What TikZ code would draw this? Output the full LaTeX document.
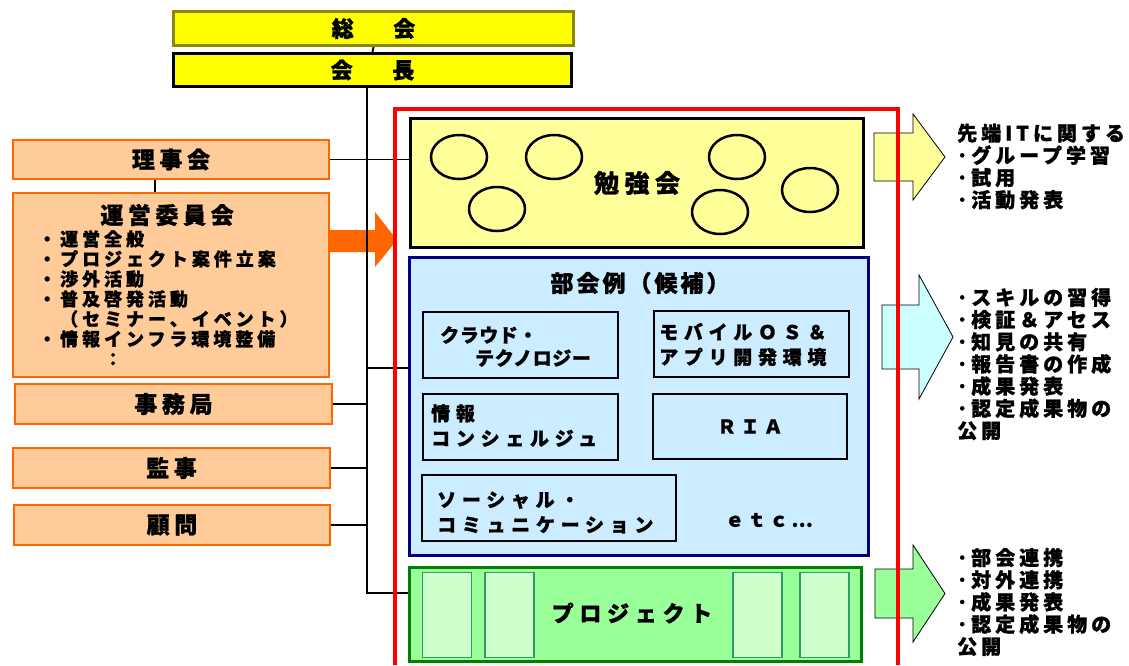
\documentclass[tikz,border=0pt]{standalone}
\usepackage{fontspec}
\setmainfont{Noto Sans CJK JP}[BoldFeatures={FakeBold=1.2}]
\usetikzlibrary{shapes.geometric}
\definecolor{cyel}{HTML}{FFFF00}
\definecolor{colive}{HTML}{8A8A00}
\definecolor{cltyel}{HTML}{FFFF99}
\definecolor{corange}{HTML}{FF6600}
\definecolor{cltorange}{HTML}{FFCC99}
\definecolor{cltblue}{HTML}{CCECFF}
\definecolor{cnavy}{HTML}{000080}
\definecolor{cgreen}{HTML}{99FF99}
\definecolor{cdkgreen}{HTML}{008000}
\definecolor{cpalegreen}{HTML}{CCFFCC}
\definecolor{cteal}{HTML}{339966}
\definecolor{ccyan}{HTML}{CCFFFF}
\newcommand\myfs[2]{\fontsize{#1}{#2}\selectfont}
\newcommand\myls[1]{\addfontfeature{LetterSpace=#1}}
\begin{document}
\begin{tikzpicture}[x=1pt,y=-1pt,
  topbox/.style={fill=cyel, line width=3pt, inner sep=0pt, font=\bfseries\myfs{22}{24}\myls{40}},
  orangebox/.style={draw=corange, fill=cltorange, line width=2pt, inner sep=0pt, font=\bfseries\myfs{23}{25}\myls{20}},
  subbox/.style={draw=black, fill=cltblue, line width=2.5pt, inner sep=0pt},
  subtext/.style={anchor=west, inner sep=0pt, font=\bfseries\myfs{19}{25}\myls{30}, align=left},
  circ/.style={ellipse, draw=black, line width=2.5pt, minimum width=56pt, minimum height=44pt, inner sep=0pt},
  pbar/.style={draw=cteal, fill=cpalegreen, line width=1.2pt, minimum width=49pt, minimum height=85pt, inner sep=0pt},
  conn/.style={draw=black, line width=1.8pt},
  rtext/.style={anchor=west, inner sep=0pt, align=left, font=\bfseries\myfs{20}{22.2}\myls{20}},
  barrow/.style={draw=black, line width=0.8pt}
]
\useasboundingbox (0,0) rectangle (1129,665);

% top boxes
\node[topbox, draw=colive, minimum width=400pt, minimum height=34pt] (soukai) at (373.5,28.5) {総　会};
\node[topbox, draw=black, minimum width=398pt, minimum height=33pt] (kaicho) at (372.5,70) {会　長};

% left boxes
\node[orangebox, minimum width=316pt, minimum height=39pt] (riji) at (171,159.5) {理事会};
\node[orangebox, minimum width=316pt, minimum height=184pt] (unei) at (171,285) {};
\node[inner sep=0pt, font=\bfseries\myfs{23}{25}\myls{20}] (uneititle) at (167,215) {運営委員会};
\node[anchor=west, inner sep=0pt, align=left, font=\bfseries\myfs{18}{20}\myls{22}] (uneilist) at (38,298)
  {・運営全般\\・プロジェクト案件立案\\・渉外活動\\・普及啓発活動\\　（セミナー、イベント）\\・情報インフラ環境整備\\　　　：};
\node[orangebox, minimum width=317pt, minimum height=40pt] (jimu) at (173.5,404) {事務局};
\node[orangebox, minimum width=317pt, minimum height=40pt] (kanji) at (171.5,468) {監事};
\node[orangebox, minimum width=316pt, minimum height=40pt] (komon) at (172,525) {顧問};

% orange arrow
\fill[corange] (330,230) -- (375,230) -- (375,212) -- (397,240) -- (375,267) -- (375,252) -- (330,252) -- cycle;

% connectors
\coordinate (trunk) at (367,0);
\draw[conn] (soukai.south) -- (kaicho.north);
\draw[conn] ([xshift=-16pt]riji.south) -- ([xshift=-16pt]riji.south |- unei.north);
\draw[conn] (kaicho.south -| trunk) -- (trunk |- 0,593) -- (412,593);
\draw[conn] (riji.east) -- (413,159.5);
\draw[conn] (trunk |- 0,368) -- (412,368);
\draw[conn] (jimu.east) -- (trunk |- jimu.east);
\draw[conn] (kanji.east) -- (trunk |- kanji.east);
\draw[conn] (komon.east) -- (trunk |- komon.east);

% benkyokai
\node[draw=black, fill=cltyel, line width=3pt, minimum width=453pt, minimum height=129pt, inner sep=0pt,
      font=\bfseries\myfs{25}{27}\myls{22}] (benkyo) at (637,183) {勉強会};
\node[circ] (e1) at (459,157) {};
\node[circ] (e2) at (554,157) {};
\node[circ] (e3) at (497,209) {};
\node[circ] (e4) at (737,157) {};
\node[circ] (e5) at (720,212) {};
\node[circ] (e6) at (810,190) {};

% bukai
\node[draw=cnavy, fill=cltblue, line width=3pt, minimum width=459pt, minimum height=298pt, inner sep=0pt] (bukai) at (639,406.5) {};
\node[inner sep=0pt, font=\bfseries\myfs{23}{25}\myls{13}] (bukaititle) at (640,283) {部会例（候補）};
\node[subbox, minimum width=195pt, minimum height=66pt] (cloud) at (520.5,345) {};
\node[subbox, minimum width=195pt, minimum height=66pt] (mobile) at (751.5,344) {};
\node[subbox, minimum width=195pt, minimum height=66pt] (concierge) at (520.5,427) {};
\node[subbox, minimum width=194pt, minimum height=65pt, font=\bfseries\myfs{19}{21}\myls{22}] (ria) at (750,426.5) {ＲＩＡ};
\node[subbox, minimum width=254pt, minimum height=66pt] (social) at (549,508) {};
\node[subtext, font=\bfseries\myfs{19}{23}\myls{3}] (cloudt1) at (440,335) {クラウド・};
\node[subtext, font=\bfseries\myfs{19}{23}\myls{3}] (cloudt2) at (475,358) {テクノロジー};
\node[subtext] (mobilet) at (659,344.5) {モバイルＯＳ＆\\アプリ開発環境};
\node[subtext] (conciergeT) at (431,425.5) {情報\\コンシェルジュ};
\node[subtext] (socialt) at (437,512.5) {ソーシャル・\\コミュニケーション};
\node[inner sep=0pt, font=\bfseries\myfs{19}{21}\myls{16}] (etc) at (769,520) {ｅｔｃ…};

% project
\node[draw=cdkgreen, fill=cgreen, line width=3pt, minimum width=452pt, minimum height=94pt, inner sep=0pt] (project) at (635.5,614.5) {};
\node[pbar] (p1) at (447,615) {};
\node[pbar] (p2) at (509.5,615) {};
\node[pbar] (p3) at (757.5,615) {};
\node[pbar] (p4) at (824.5,615) {};
\node[inner sep=0pt, font=\bfseries\myfs{22}{24}\myls{26}] (projt) at (632,613) {プロジェクト};

% right block arrows
\draw[barrow, fill=cltyel] (874,133) -- (913,133) -- (913,114) -- (945,157) -- (913,200) -- (913,181) -- (874,181) -- cycle;
\draw[barrow, fill=ccyan] (882,305) -- (919,305) -- (919,275) -- (953,337) -- (919,399) -- (919,369) -- (882,369) -- cycle;
\draw[barrow, fill=cgreen] (875,569) -- (913,569) -- (913,545) -- (945,593.5) -- (913,642) -- (913,618) -- (875,618) -- cycle;

% red frame
\draw[red, line width=4pt] (395,665) -- (395,109) -- (898,109) -- (898,665);

% right texts
\node[rtext] (rt1) at (957,166.5) {先端ITに関する\\･グループ学習\\･試用\\･活動発表};
\node[rtext] (rt2) at (957,364) {･スキルの習得\\･検証＆アセス\\･知見の共有\\･報告書の作成\\･成果発表\\･認定成果物の\\公開};
\node[rtext] (rt3) at (957,602) {･部会連携\\･対外連携\\･成果発表\\･認定成果物の\\公開};
\end{tikzpicture}
\end{document}
